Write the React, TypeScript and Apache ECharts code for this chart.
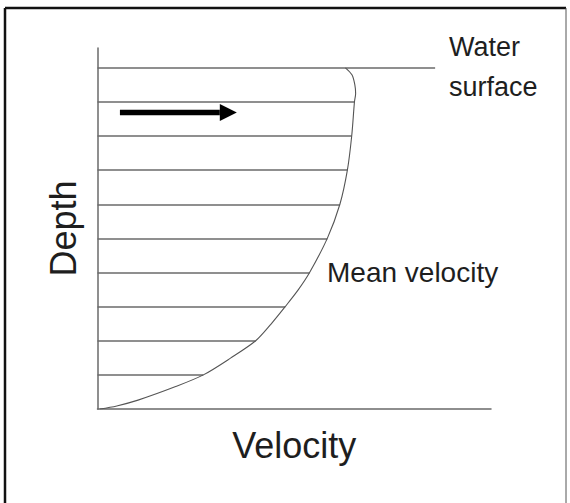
import React, { useEffect, useRef } from "react";
import * as echarts from "echarts";

// Depth levels (0 = bed, 10 = water surface) and velocity reached at each level
const depthLevels = [1, 2, 3, 4, 5, 6, 7, 8, 9];
const levelVelocity = [26.9, 40.2, 47.7, 53.9, 58.4, 61.6, 63.5, 64.6, 65.3];

// Water surface line
const surfaceLevel = 10;
const surfaceExtent = 85.8;

// Mean velocity profile curve
const curveDepth = [10, 9.79, 9.5, 9.25, 9, 8, 7, 6, 5, 4, 3.49, 3, 2.49, 2, 1.49, 1, 0.65, 0.26, 0.09, 0];
const curveVelocity = [63.0, 64.7, 65.4, 65.6, 65.3, 64.6, 63.5, 61.6, 58.4, 53.9, 51.0, 47.7, 44.1, 40.2, 33.8, 26.9, 19.7, 10.3, 4.9, 0.6];

// Flow direction arrow: [startVelocity, depth, endVelocity]
const arrowData = [[5.7, 8.69, 35.4]];

const axisNames = { x: "Velocity", y: "Depth" };
const annotations = { curve: "Mean velocity", surface: "Water\nsurface" };

const FONT = "'Liberation Sans', Arial, Helvetica, sans-serif";
const TEXT = "#1e1e1e";
const LINE = "#6a6a6a";

export default function App() {
  const ref = useRef<HTMLDivElement>(null);
  useEffect(() => {
    if (!ref.current) return;
    const chart = echarts.init(ref.current, undefined, { renderer: "svg" });
    const levelLines = depthLevels.map((d, i) => ({ coords: [[0, d], [levelVelocity[i], d]] }));
    levelLines.push({ coords: [[0, surfaceLevel], [surfaceExtent, surfaceLevel]] });
    const curve = curveDepth.map((d, i) => [curveVelocity[i], d]);

    chart.setOption({
      animation: false,
      backgroundColor: "#ffffff",
      grid: { left: 97.5, right: 79, top: 48, bottom: 94 },
      xAxis: {
        type: "value",
        min: 0,
        max: 100,
        name: axisNames.x,
        nameLocation: "middle",
        nameGap: 18,
        nameTextStyle: { fontFamily: FONT, fontSize: 36, color: TEXT },
        axisLine: { show: true, lineStyle: { color: LINE, width: 1.5 } },
        axisTick: { show: false },
        axisLabel: { show: false },
        splitLine: { show: false },
      },
      yAxis: {
        type: "value",
        min: 0,
        max: 10.58,
        name: axisNames.y,
        nameLocation: "middle",
        nameGap: 16,
        nameTextStyle: { fontFamily: FONT, fontSize: 36, color: TEXT },
        axisLine: { show: true, lineStyle: { color: LINE, width: 1.5 } },
        axisTick: { show: false },
        axisLabel: { show: false },
        splitLine: { show: false },
      },
      graphic: [
        { type: "line", shape: { x1: 5, y1: 8, x2: 5, y2: 503 }, style: { stroke: "#111", lineWidth: 2.5 } },
        { type: "line", shape: { x1: 5, y1: 8, x2: 566, y2: 8 }, style: { stroke: "#111", lineWidth: 2.5 } },
        { type: "line", shape: { x1: 566, y1: 8, x2: 566, y2: 503 }, style: { stroke: "#555", lineWidth: 1 } },
        {
          type: "text",
          style: { x: 327, y: 258, text: annotations.curve, fontFamily: FONT, fontSize: 28, fill: TEXT, verticalAlign: "top" },
        },
        {
          type: "text",
          style: { x: 449, y: 27, text: annotations.surface, fontFamily: FONT, fontSize: 27, lineHeight: 40, fill: TEXT, verticalAlign: "top" },
        },
      ],
      series: [
        {
          type: "lines",
          coordinateSystem: "cartesian2d",
          data: levelLines,
          lineStyle: { color: LINE, width: 1.5, opacity: 1 },
          silent: true,
        },
        {
          type: "line",
          data: curve,
          smooth: 0.3,
          showSymbol: false,
          lineStyle: { color: "#555", width: 1.1 },
          silent: true,
        },
        {
          type: "custom",
          data: arrowData,
          silent: true,
          renderItem: (params: any, api: any) => {
            const s = api.coord([api.value(0), api.value(1)]);
            const e = api.coord([api.value(2), api.value(1)]);
            const headLen = 17;
            const headHalf = 8.5;
            const shaft = 5.6;
            return {
              type: "group",
              children: [
                {
                  type: "rect",
                  shape: { x: s[0], y: s[1] - shaft / 2, width: e[0] - headLen - s[0], height: shaft },
                  style: { fill: "#000" },
                },
                {
                  type: "polygon",
                  shape: {
                    points: [
                      [e[0] - headLen, s[1] - headHalf],
                      [e[0], s[1]],
                      [e[0] - headLen, s[1] + headHalf],
                    ],
                  },
                  style: { fill: "#000" },
                },
              ],
            };
          },
        },
      ],
    });
    return () => chart.dispose();
  }, []);
  return <div ref={ref} style={{ position: "fixed", left: 0, top: 0, width: 570, height: 503 }} />;
}
